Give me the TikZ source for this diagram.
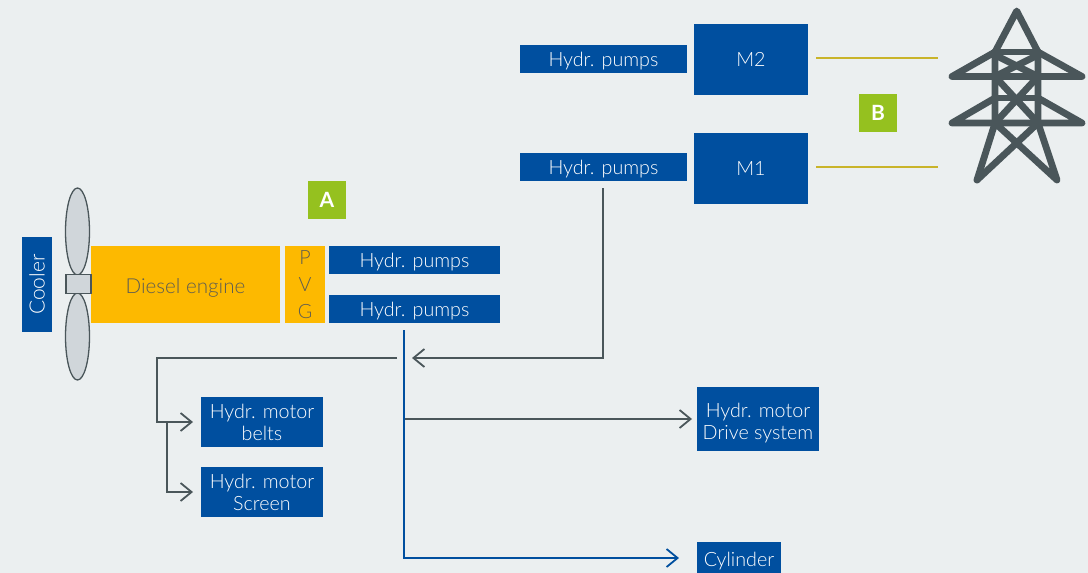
\documentclass[tikz,border=0pt]{standalone}
\usepackage{fontspec}
\setmainfont{Lato Light}[BoldFont=Lato Bold]
\usetikzlibrary{arrows.meta,shapes.geometric}
\definecolor{bgc}{HTML}{EBEFF0}
\definecolor{bluec}{HTML}{004F9F}
\definecolor{amberc}{HTML}{FDB900}
\definecolor{greenc}{HTML}{95C11F}
\definecolor{greyc}{HTML}{4A565A}
\definecolor{propc}{HTML}{D0D6DA}
\definecolor{yelc}{HTML}{C9B42A}
\definecolor{txtc}{HTML}{5E5D52}
\tikzset{
  base/.style={inner sep=0pt,outer sep=0pt,align=center,font=\fontsize{19.7}{22}\selectfont},
  bluebox/.style={base,fill=bluec,text=white},
  amberbox/.style={base,fill=amberc,text=txtc},
  tag/.style={base,fill=greenc,text=white,minimum width=38pt,minimum height=38pt,font=\fontsize{21}{24}\selectfont\bfseries},
  tip/.style={-{Straight Barb[length=11pt,width=18pt,line width=1.8pt]}},
  greyline/.style={draw=greyc,line width=1.9pt},
  blueline/.style={draw=bluec,line width=1.9pt},
  feed/.style={draw=yelc,line width=1.9pt},
  blade/.style={draw=greyc,fill=propc,line width=1.3pt},
  mast/.style={draw=greyc,line width=6.8pt,line cap=round,line join=round}
}
\begin{document}
\begin{tikzpicture}[x=1pt,y=-1pt]
\useasboundingbox[fill=bgc] (0,0) rectangle (1088,573);
% boxes
\node[bluebox,minimum width=167pt,minimum height=28pt,text depth=-1pt] (p2) at (603.5,59) {Hydr. pumps};
\node[bluebox,minimum width=114pt,minimum height=71pt,text depth=-2pt] (m2) at (751,59.5) {M2};
\node[bluebox,minimum width=167pt,minimum height=28pt,text depth=-1pt] (p1) at (603.5,167) {Hydr. pumps};
\node[bluebox,minimum width=114pt,minimum height=71pt,text depth=-2pt] (m1) at (751,168.5) {M1};
\node[tag] (tb) at (878,113) {B};
\node[tag] (ta) at (327,200) {A};
\node[bluebox,minimum width=95pt,minimum height=30pt,rotate=90,font=\fontsize{21}{24}\selectfont] (cooler) at (37,284.5) {Cooler};
\node[amberbox,minimum width=189pt,minimum height=77pt,text height=17.6pt,text depth=0pt,font=\fontsize{20.6}{24}\selectfont] (eng) at (185.5,284.5) {Diesel engine};
\node[amberbox,minimum width=40pt,minimum height=77pt,font=\fontsize{19.7}{27}\selectfont] (pvg) at (305,284.5) {P\\V\\G};
\node[bluebox,minimum width=171pt,minimum height=28pt,text depth=-1pt] (pa) at (414.5,260) {Hydr. pumps};
\node[bluebox,minimum width=171pt,minimum height=28pt,text depth=-1pt] (pb) at (414.5,309) {Hydr. pumps};
\node[bluebox,minimum width=122pt,minimum height=50pt,text depth=-2pt] (belts) at (262,422) {Hydr. motor\\belts};
\node[bluebox,minimum width=122pt,minimum height=50pt,text depth=-2pt] (screen) at (262,492) {Hydr. motor\\Screen};
\node[bluebox,minimum width=122pt,minimum height=64pt] (drive) at (758,419) {\rule{0pt}{22pt}Hydr. motor\\Drive system};
\node[bluebox,minimum width=84pt,minimum height=31pt,text height=17pt,text depth=0pt] (cyl) at (739,557.5) {Cylinder};
% propeller
\node[blade,ellipse,minimum width=24pt,minimum height=87pt,inner sep=0pt] (bl1) at (77.5,231.5) {};
\node[blade,ellipse,minimum width=24pt,minimum height=87pt,inner sep=0pt] (bl2) at (77.5,336.5) {};
\node[blade,minimum width=25pt,minimum height=19pt,inner sep=0pt] (hub) at (78.5,284) {};
% feeds to the pylon
\coordinate (fa) at (816,58); \coordinate (fb) at (938,58);
\coordinate (fc) at (816,167); \coordinate (fd) at (938,167);
\draw[feed] (fa) -- (fb);
\draw[feed] (fc) -- (fd);
% pipes
\coordinate (s1) at (603,188);
\coordinate (e1) at (412,358);
\coordinate (s2) at (397,358);
\coordinate (c2) at (157,358);
\coordinate (j2) at (157,422);
\coordinate (j3) at (167,422);
\coordinate (c3) at (167,492);
\coordinate (s4) at (404,419);
\coordinate (s5) at (404,330);
\coordinate (c5) at (404,558);
\draw[greyline,tip] (s1) |- (e1);
\draw[greyline,tip] (s2) -- (c2) -- (j2) -- ([xshift=-8pt]belts.west);
\draw[greyline,tip] (j3) -- (c3) -- ([xshift=-8pt]screen.west);
\draw[greyline,tip] (s4) -- ([xshift=-5pt]drive.west);
\draw[blueline,tip] (s5) -- (c5) -- ([xshift=-18pt,yshift=-.5pt]cyl.west);
% pylon
\draw[mast] (977,180) -- (995,123) -- (995,52) -- (1016.7,11) -- (1038,52) -- (1038,123) -- (1057,180) -- (995,123);
\draw[mast] (977,180) -- (1038,123);
\draw[mast] (995,52) -- (1038,52);
\draw[mast] (995,52) -- (952,76.5) -- (1082,76.5) -- (1038,52);
\draw[mast] (995,98) -- (952,123) -- (1082,123) -- (1038,98);
\draw[mast] (995,98) -- (1038,98);
\draw[mast] (995,55) -- (1038,76.5);
\draw[mast] (1038,55) -- (995,76.5);
\draw[mast] (995,76.5) -- (1038,123);
\draw[mast] (1038,76.5) -- (995,123);
\end{tikzpicture}
\end{document}
